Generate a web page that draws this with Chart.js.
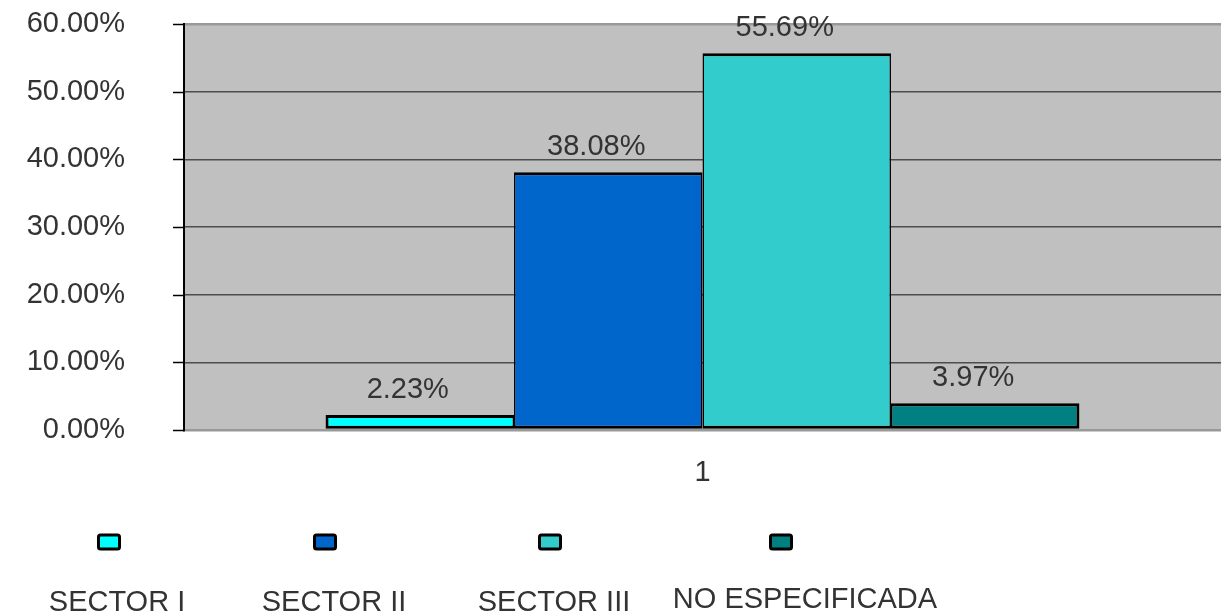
<!DOCTYPE html>
<html>
<head>
<meta charset="utf-8">
<script src="https://cdn.jsdelivr.net/npm/chart.js@4/dist/chart.umd.min.js"></script>
<style>
  html, body { margin: 0; padding: 0; background: #fff; }
  #wrap { width: 1221px; height: 615px; }
</style>
</head>
<body>
<div id="wrap"><canvas id="sectorChart"></canvas></div>
<script>
// data
const categories = ['1'];
const sectorNames = ['SECTOR I', 'SECTOR II', 'SECTOR III', 'NO ESPECIFICADA'];
const sectorValues = [2.23, 38.08, 55.69, 3.97];
const sectorColors = ['#00FFFF', '#0066CC', '#33CCCC', '#008080'];
const yTicks = [0, 10, 20, 30, 40, 50, 60];

const FONT = '"Liberation Sans", Arial, sans-serif';
const TEXT = '#333333';

// legend layout (boxes on one row, names on a row below)
const legendBoxX = [109, 325, 550, 781];
const legendTextX = [117, 334, 554, 805];

const plotBg = {
    id: 'plotBg',
    beforeDraw(chart) {
        const { ctx, chartArea } = chart;
        ctx.save();
        ctx.fillStyle = '#C0C0C0';
        ctx.fillRect(chartArea.left, chartArea.top, chartArea.right - chartArea.left, chartArea.bottom - chartArea.top);
        ctx.restore();
    }
};

// short black tick marks on the left of the y axis
const yTickMarks = {
    id: 'yTickMarks',
    afterDraw(chart) {
        const ctx = chart.ctx;
        const y = chart.scales.y;
        ctx.save();
        ctx.strokeStyle = '#000';
        ctx.lineWidth = 1.5;
        yTicks.forEach(v => {
            const py = Math.round(y.getPixelForValue(v)) + 0.5;
            ctx.beginPath();
            ctx.moveTo(y.right - 11, py);
            ctx.lineTo(y.right, py);
            ctx.stroke();
        });
        ctx.restore();
    }
};

const valueLabels = {
    id: 'valueLabels',
    afterDatasetsDraw(chart) {
        const ctx = chart.ctx;
        ctx.save();
        ctx.font = '29px ' + FONT;
        ctx.fillStyle = TEXT;
        ctx.textAlign = 'center';
        ctx.textBaseline = 'alphabetic';
        chart.data.datasets.forEach((ds, i) => {
            chart.getDatasetMeta(i).data.forEach((bar, j) => {
                ctx.fillText(ds.data[j].toFixed(2) + '%', bar.x - 12, bar.y - 17);
            });
        });
        ctx.restore();
    }
};

const bottomLegend = {
    id: 'bottomLegend',
    afterDraw(chart) {
        const ctx = chart.ctx;
        ctx.save();
        chart.data.datasets.forEach((ds, i) => {
            ctx.fillStyle = ds.backgroundColor;
            ctx.strokeStyle = '#000';
            ctx.lineWidth = 3;
            ctx.beginPath();
            ctx.roundRect(legendBoxX[i] - 10.5, 535, 21, 14, 2);
            ctx.fill();
            ctx.stroke();
            ctx.font = '29px ' + FONT;
            ctx.fillStyle = TEXT;
            ctx.textAlign = 'center';
            ctx.textBaseline = 'alphabetic';
            ctx.fillText(ds.label, legendTextX[i], i === 3 ? 608 : 611);
        });
        ctx.restore();
    }
};

const last = sectorNames.length - 1;
const datasets = sectorNames.map((name, i) => ({
    label: name,
    data: [sectorValues[i]],
    backgroundColor: sectorColors[i],
    borderColor: '#000',
    borderWidth: { top: 3, bottom: 3, left: i === 0 ? 3 : 1.5, right: i === last ? 3 : 1.5 },
    borderSkipped: false,
    categoryPercentage: 0.727,
    barPercentage: 1
}));

new Chart(document.getElementById('sectorChart'), {
    type: 'bar',
    data: { labels: categories, datasets: datasets },
    plugins: [plotBg, valueLabels, yTickMarks, bottomLegend],
    options: {
        responsive: true,
        maintainAspectRatio: false,
        animation: false,
        layout: { padding: { top: 24, right: 0, bottom: 0, left: 0 } },
        plugins: {
            legend: { display: false },
            tooltip: { enabled: false }
        },
        scales: {
            x: {
                grid: { display: false },
                border: { color: '#999999', width: 2 },
                ticks: { color: TEXT, font: { family: FONT, size: 29 }, padding: 18 },
                afterFit(scale) { scale.height = 185; }
            },
            y: {
                min: 0,
                max: 60,
                afterBuildTicks(scale) { scale.ticks = yTicks.map(v => ({ value: v })); },
                grid: {
                    color: ctx => (ctx.tick.value === 0 || ctx.tick.value === 60) ? '#999999' : '#4D4D4D',
                    lineWidth: ctx => (ctx.tick.value === 0 || ctx.tick.value === 60) ? 2.5 : 1.5,
                    tickColor: 'rgba(0,0,0,0)',
                    tickLength: 59
                },
                border: { color: '#000', width: 2 },
                ticks: {
                    color: TEXT,
                    font: { family: FONT, size: 29 },
                    padding: 0,
                    callback: v => v.toFixed(2) + '%'
                },
                afterFit(scale) { scale.width = 184; }
            }
        }
    }
});
</script>
</body>
</html>
